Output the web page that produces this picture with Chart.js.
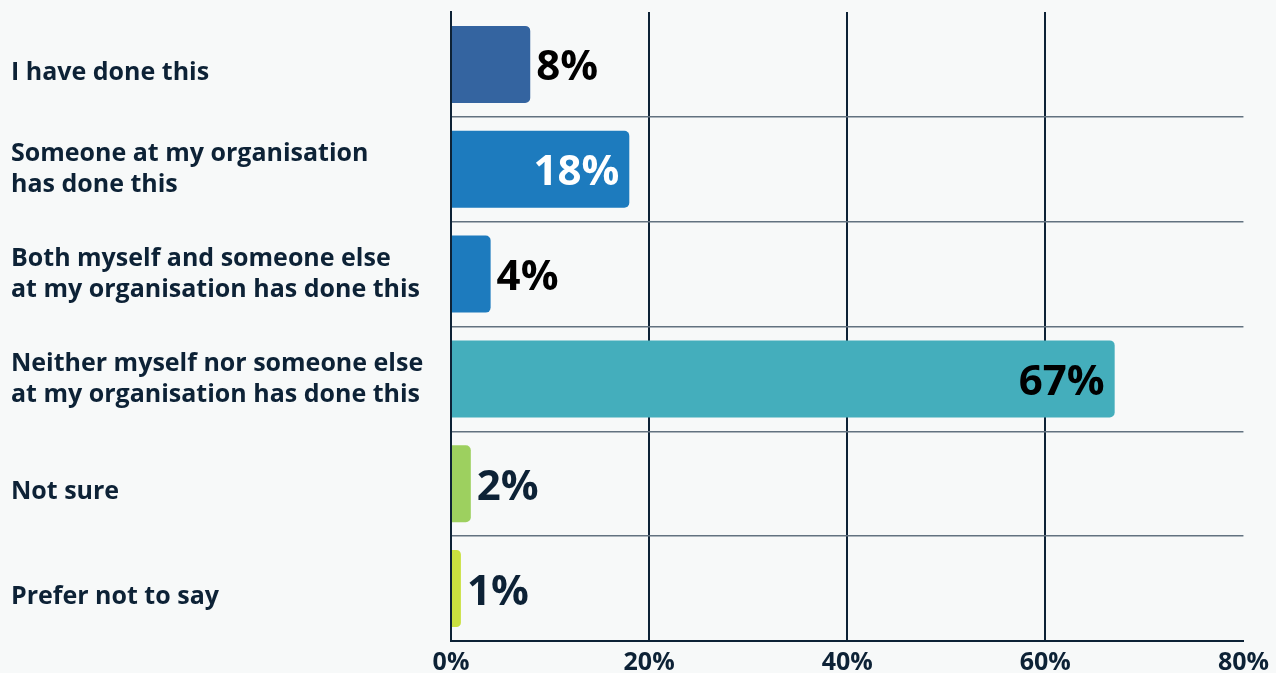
<!DOCTYPE html>
<html><head><meta charset="utf-8">
<script src="https://cdn.jsdelivr.net/npm/chart.js@4"></script>
<style>html,body{margin:0;padding:0;background:#f7f9f9;} canvas{display:block}</style>
</head><body>
<canvas id="c" width="1276" height="673"></canvas>
<script>
// ---- data ----
const categories = [
  ['I have done this'],
  ['Someone at my organisation', 'has done this'],
  ['Both myself and someone else', 'at my organisation has done this'],
  ['Neither myself nor someone else', 'at my organisation has done this'],
  ['Not sure'],
  ['Prefer not to say']
];
const values = [8, 18, 4, 67, 2, 1];
const xMin = 0;
const xMax = 80;
const xStep = 20;

// ---- styles ----
const barColors = ['#3464a0', '#1d7bbe', '#1d7bbe', '#44aebc', '#9dd05f', '#c9e03f'];
const labelColors = ['#000000', '#ffffff', '#000000', '#000000', '#0d2236', '#0d2236'];
const labelInside = [false, true, false, true, false, false];
const navy = '#0d2236';
const FONT = '"Open Sans", Lato, sans-serif';

const valueLabels = {
  id: 'valueLabels',
  beforeDraw(chart) {
    // nudge single-line category labels slightly downward, as in the reference
    const items = chart.scales.y.getLabelItems();
    items.forEach(it => {
      const lines = Array.isArray(it.label) ? it.label.length : 1;
      if (lines === 1) it.textOffset += 8;
    });
  },
  afterDraw(chart) {
    const ctx = chart.ctx;
    const meta = chart.getDatasetMeta(0);
    ctx.save();
    ctx.font = 'bold 42px ' + FONT;
    ctx.textBaseline = 'alphabetic';
    meta.data.forEach((bar, i) => {
      const txt = values[i] + '%';
      ctx.fillStyle = labelColors[i];
      if (labelInside[i]) {
        ctx.textAlign = 'right';
        ctx.fillText(txt, bar.x - 10, bar.y + 16);
      } else {
        ctx.textAlign = 'left';
        ctx.fillText(txt, bar.x + 6, bar.y + 16);
      }
    });
    ctx.restore();
  }
};

new Chart(document.getElementById('c'), {
  type: 'bar',
  data: {
    labels: categories,
    datasets: [{
      data: values,
      backgroundColor: barColors,
      borderRadius: 5,
      borderSkipped: 'start',
      barPercentage: 0.735,
      categoryPercentage: 1
    }]
  },
  options: {
    indexAxis: 'y',
    responsive: false,
    devicePixelRatio: 1,
    animation: false,
    layout: { padding: { top: 12, left: 11, right: 31, bottom: 0 } },
    plugins: { legend: { display: false }, tooltip: { enabled: false } },
    scales: {
      x: {
        min: xMin, max: xMax,
        z: 1,
        afterFit(scale) { scale.height = 32; },
        ticks: {
          stepSize: xStep,
          padding: 7,
          color: navy,
          font: { family: FONT, size: 25, weight: '700' },
          callback: v => v + '%'
        },
        grid: {
          drawTicks: false,
          lineWidth: 2,
          color: c => (c.index === 4 ? 'rgba(0,0,0,0)' : navy)
        },
        border: { display: true, color: navy, width: 2 }
      },
      y: {
        z: 1,
        afterFit(scale) { scale.width = 440; scale.paddingTop = 0; scale.paddingBottom = 0; },
        ticks: {
          crossAlign: 'far',
          padding: 0,
          color: navy,
          font: { family: FONT, size: 25, weight: '700', lineHeight: 1.24 }
        },
        grid: {
          drawTicks: false,
          offset: true,
          lineWidth: 1.5,
          color: c => (c.index === 0 ? 'rgba(0,0,0,0)' : '#627280')
        },
        border: { display: true, color: navy, width: 2 }
      }
    }
  },
  plugins: [valueLabels]
});
</script>
</body></html>
